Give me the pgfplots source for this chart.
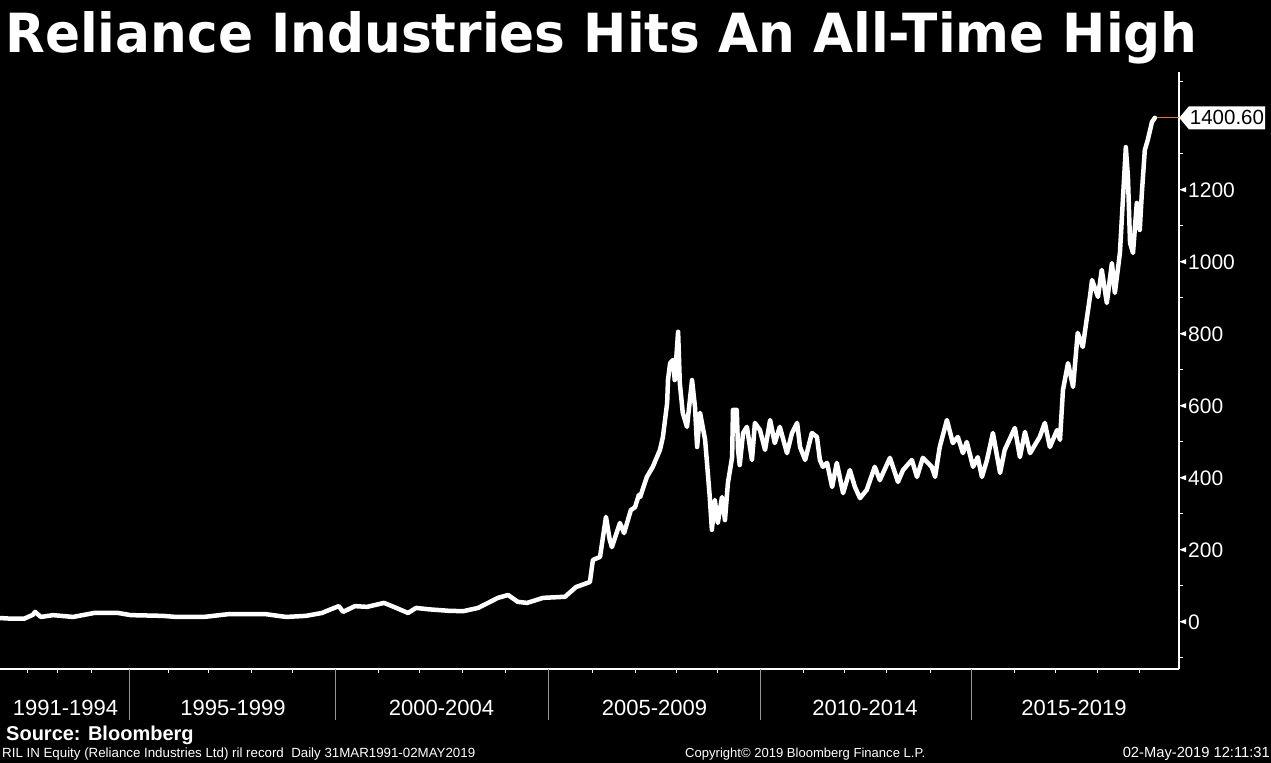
\documentclass[border=0pt]{standalone}
\usepackage{fontspec}
\setmainfont{Liberation Sans}
\newfontfamily\titlefont{DejaVu Sans}
\usepackage{graphicx}
\usepackage{pgfplots}
\usepackage{pgfplotstable}
\pgfplotsset{compat=1.18}
\usetikzlibrary{shapes.symbols}
\definecolor{ornge}{RGB}{215,120,50}
\definecolor{sepgray}{RGB}{150,150,150}

\pgfplotstableread{
year value
1991.92 11
1992.20 9
1992.49 9
1992.70 20
1992.75 28
1992.89 14
1993.18 19
1993.65 14
1994.15 25
1994.72 25
1995.02 19
1995.78 17
1996.09 14
1996.75 14
1997.35 22
1997.73 22
1998.20 22
1998.70 14
1999.17 17
1999.55 25
1999.67 31
1999.95 44
2000.05 28
2000.33 44
2000.62 42
2001.02 53
2001.21 44
2001.59 25
2001.78 39
2002.10 35
2002.56 31
2002.90 30
2003.25 39
2003.72 67
2003.96 75
2004.19 56
2004.41 53
2004.79 67
2005.31 70
2005.57 97
2005.90 111
2005.97 172
2006.14 181
2006.28 292
2006.37 228
2006.42 208
2006.61 275
2006.71 247
2006.87 311
2006.97 319
2007.06 353
2007.09 347
2007.25 403
2007.39 431
2007.56 478
2007.63 514
2007.73 608
2007.75 672
2007.80 719
2007.87 728
2007.91 672
2007.99 806
2008.03 664
2008.10 581
2008.20 542
2008.32 672
2008.39 597
2008.44 486
2008.51 581
2008.63 506
2008.74 347
2008.79 256
2008.86 339
2008.93 275
2009.03 347
2009.10 283
2009.17 386
2009.27 458
2009.29 589
2009.38 589
2009.41 478
2009.45 436
2009.53 525
2009.62 542
2009.74 450
2009.81 553
2009.93 533
2010.05 478
2010.17 561
2010.28 497
2010.40 542
2010.57 469
2010.69 525
2010.81 553
2010.88 486
2011.00 450
2011.16 525
2011.28 514
2011.35 450
2011.42 431
2011.52 442
2011.64 375
2011.75 442
2011.90 358
2012.06 422
2012.18 375
2012.30 344
2012.46 367
2012.65 431
2012.77 394
2013.01 456
2013.20 389
2013.32 422
2013.53 450
2013.65 403
2013.79 456
2014.00 431
2014.08 403
2014.19 486
2014.36 561
2014.50 497
2014.62 514
2014.74 469
2014.83 500
2014.98 431
2015.09 458
2015.19 403
2015.31 450
2015.45 525
2015.62 414
2015.73 478
2015.97 539
2016.09 458
2016.21 528
2016.33 469
2016.56 514
2016.68 553
2016.80 486
2016.97 533
2017.04 506
2017.11 644
2017.23 719
2017.35 653
2017.46 803
2017.58 764
2017.68 847
2017.75 903
2017.80 950
2017.94 903
2018.03 978
2018.15 886
2018.27 997
2018.34 914
2018.46 1025
2018.53 1172
2018.60 1319
2018.65 1236
2018.70 1053
2018.77 1025
2018.86 1164
2018.93 1089
2018.98 1192
2019.05 1311
2019.12 1339
2019.22 1389
2019.29 1400.6
}\rildata

\newcommand{\tri}{\tikz[baseline=-7.5bp]\fill[white] (0,0)--(7bp,2.6bp)--(7bp,-2.6bp)--cycle;\hspace{2bp}}

\begin{document}
\begin{tikzpicture}[x=1bp,y=1bp]
\useasboundingbox (0,0) rectangle (1271,763);
\fill[black] (0,0) rectangle (1271,763);
\begin{axis}[
  at={(0bp,94bp)}, anchor=south west,
  width=1179bp, height=597bp, scale only axis,
  xmin=1991.92, xmax=2019.86, ymin=-130.6, ymax=1527.8,
  axis x line*=bottom, axis y line*=right,
  axis line style={white, line width=1.2bp},
  xtick={1992.56,1993.29,1994.10,1995.00,1995.92,1996.87,1997.87,1998.84,1999.86,2000.88,2001.87,2002.87,2003.91,2004.93,2005.95,2006.97,2007.94,2008.93,2009.95,2010.97,2011.94,2012.94,2013.96,2014.95,2015.95,2016.94,2017.94,2018.93},
  xticklabels={},
  tick align=outside, major tick length=4bp,
  tick style={white, line width=1bp},
  ytick={-100,0,100,200,300,400,500,600,700,800,900,1000,1100,1200,1300,1400,1500},
  yticklabels={{},{\tri 0},{},{\tri 200},{},{\tri 400},{},{\tri 600},{},{\tri 800},{},{\tri 1000},{},{\tri 1200},{},{},{}},
  yticklabel style={font=\fontsize{21bp}{25bp}\selectfont, text=white, anchor=west, inner sep=0pt, xshift=-4bp},
  clip mode=individual,
]
\addplot[white, line width=4.5bp, line join=round, line cap=round] table[x=year, y=value] {\rildata};
\addplot[ornge, line width=1.2bp] coordinates {(2019.33,1400.6) (2019.86,1400.6)};
\node[signal, signal to=west, signal pointer angle=100, fill=white, text=black, inner xsep=1bp, inner ysep=0pt, minimum height=23bp, anchor=west, font=\fontsize{20.5bp}{24bp}\selectfont] at (axis cs:2019.86,1400.6) {1400.60};
\draw[sepgray, line width=1bp] (axis cs:1995.00,-130.6) -- (axis cs:1995.00,-272);
\draw[sepgray, line width=1bp] (axis cs:1999.86,-130.6) -- (axis cs:1999.86,-272);
\draw[sepgray, line width=1bp] (axis cs:2004.93,-130.6) -- (axis cs:2004.93,-272);
\draw[sepgray, line width=1bp] (axis cs:2009.95,-130.6) -- (axis cs:2009.95,-272);
\draw[sepgray, line width=1bp] (axis cs:2014.95,-130.6) -- (axis cs:2014.95,-272);
\end{axis}
\node[anchor=base west, inner sep=0pt, text=white] at (5,710) {\resizebox{1192bp}{41bp}{\titlefont\bfseries Reliance Industries Hits An All-Time High}};
\begin{scope}[every node/.style={anchor=base, inner sep=0pt, text=white, font=\fontsize{22bp}{26bp}\selectfont}]
\node at (65.5,47) {1991-1994};
\node at (233,47) {1995-1999};
\node at (441.5,47) {2000-2004};
\node at (654.5,47) {2005-2009};
\node at (865,47) {2010-2014};
\node at (1074,47) {2015-2019};
\end{scope}
\node[anchor=base west, inner sep=0pt, text=white, font=\fontsize{20bp}{24bp}\selectfont\bfseries] at (6,22) {Source: Bloomberg};
\node[anchor=base west, inner sep=0pt, text=white] at (2,5) {\resizebox{473bp}{!}{RIL IN Equity (Reliance Industries Ltd) ril record\ \ Daily 31MAR1991-02MAY2019}};
\node[anchor=base west, inner sep=0pt, text=white] at (685,5) {\resizebox{240bp}{!}{Copyright© 2019 Bloomberg Finance L.P.}};
\node[anchor=base east, inner sep=0pt, text=white] at (1270,5) {\resizebox{147bp}{!}{02-May-2019 12:11:31}};
\end{tikzpicture}
\end{document}
